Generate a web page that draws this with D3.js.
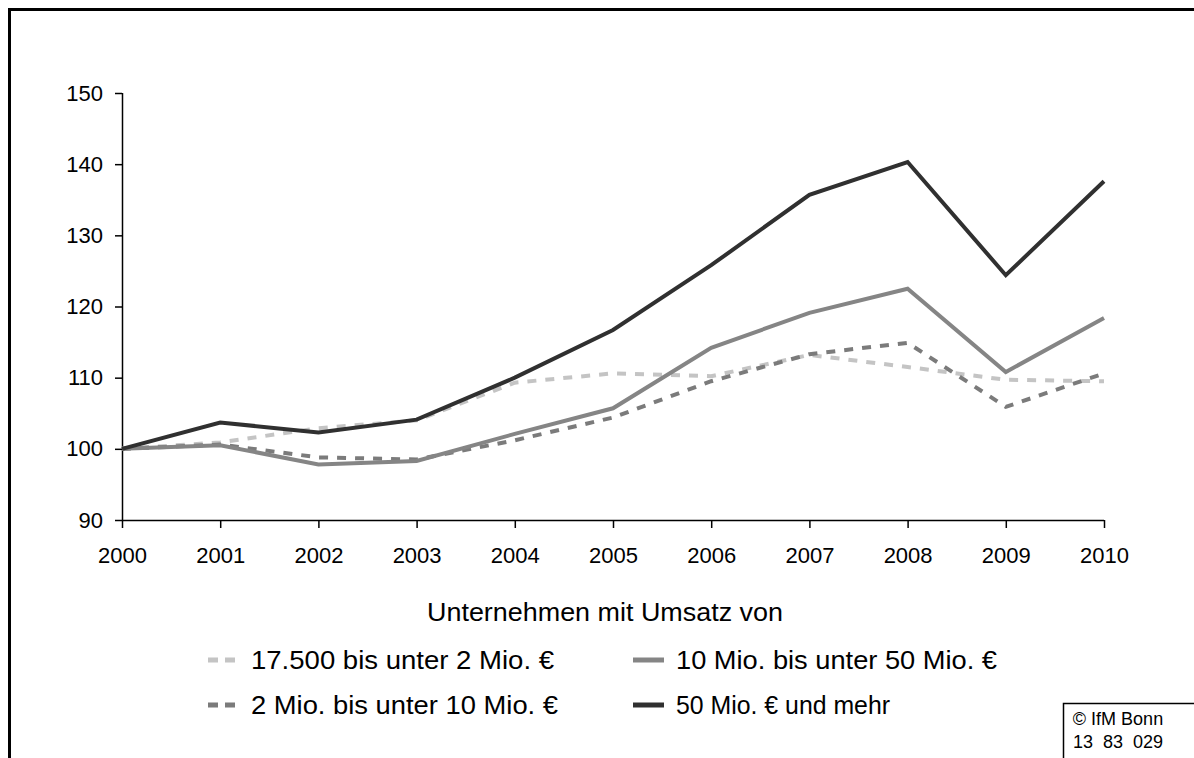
<!DOCTYPE html>
<html>
<head>
<meta charset="utf-8">
<script src="https://cdn.jsdelivr.net/npm/d3@7"></script>
<style>
  html, body { margin: 0; padding: 0; background: #fff; }
  svg { display: block; font-family: "Liberation Sans", Arial, sans-serif; }
</style>
</head>
<body>
<svg id="chart" width="1194" height="758"></svg>
<script>
// Index (2000 = 100) by turnover size class
const years = [2000, 2001, 2002, 2003, 2004, 2005, 2006, 2007, 2008, 2009, 2010];
const yTicks = [90, 100, 110, 120, 130, 140, 150];

const seriesNames = [
  "17.500 bis unter 2 Mio. €",
  "2 Mio. bis unter 10 Mio. €",
  "10 Mio. bis unter 50 Mio. €",
  "50 Mio. € und mehr"
];
const small  = [100, 100.9, 102.9, 104.0, 109.3, 110.6, 110.2, 113.2, 111.5, 109.7, 109.5];
const medium = [100, 100.6, 98.8, 98.5, 101.2, 104.4, 109.5, 113.3, 114.9, 105.9, 110.6];
const large  = [100, 100.5, 97.8, 98.3, 102.1, 105.7, 114.2, 119.1, 122.5, 110.8, 118.4];
const giant  = [100, 103.7, 102.3, 104.1, 110.0, 116.7, 125.8, 135.7, 140.3, 124.4, 137.6];

const legendTitle = "Unternehmen mit Umsatz von";
const sourceLines = ["© IfM Bonn", "13  83  029"];

const svg = d3.select("#chart");

// outer frame (left and top edges)
svg.append("path")
  .attr("d", "M9.5,758 L9.5,9.5 L1194,9.5")
  .attr("fill", "none").attr("stroke", "#000").attr("stroke-width", 3);

const x = d3.scaleLinear().domain([2000, 2010]).range([122, 1104]);
const y = d3.scaleLinear().domain([90, 150]).range([520, 93]);

// axes
const yAxis = svg.append("g").attr("transform", "translate(122,0)")
  .call(d3.axisLeft(y).tickValues(yTicks).tickSize(7).tickPadding(12).tickFormat(d3.format("d")));
const xAxis = svg.append("g").attr("transform", "translate(0,520)")
  .call(d3.axisBottom(x).tickValues(years).tickSize(8).tickPadding(19).tickFormat(d3.format("d")));
[yAxis, xAxis].forEach(g => {
  g.select(".domain").attr("stroke", "#000").attr("stroke-width", 1.5);
  g.selectAll(".tick line").attr("stroke", "#000").attr("stroke-width", 1.5);
  g.selectAll(".tick text").attr("fill", "#000").attr("font-size", 22)
    .attr("font-family", "'Liberation Sans', Arial, sans-serif");
});
xAxis.select(".domain").attr("d", "M122,0.5H1104");
yAxis.select(".domain").attr("d", "M0.5,520V93");

const series = [
  { name: seriesNames[0], values: small,  color: "#c4c4c4", dash: "9,9" },
  { name: seriesNames[1], values: medium, color: "#7b7b7b", dash: "9,9" },
  { name: seriesNames[2], values: large,  color: "#858585", dash: null },
  { name: seriesNames[3], values: giant,  color: "#303030", dash: null }
];

const line = d3.line().x((d, i) => x(years[i])).y(d => y(d));

svg.append("g").selectAll("path")
  .data(series)
  .join("path")
  .attr("d", d => line(d.values))
  .attr("fill", "none")
  .attr("stroke", d => d.color)
  .attr("stroke-width", 4)
  .attr("stroke-linejoin", "miter")
  .attr("stroke-dasharray", d => d.dash);

// legend
const legend = svg.append("g");
legend.append("text")
  .attr("x", 427).attr("y", 621)
  .attr("font-size", 26)
  .attr("textLength", 356)
  .attr("lengthAdjust", "spacingAndGlyphs")
  .text(legendTitle);

const legendPos = [
  { s: series[0], lx: 208, ly: 660, w: 303 },
  { s: series[2], lx: 633, ly: 660, w: 321 },
  { s: series[1], lx: 208, ly: 705, w: 307 },
  { s: series[3], lx: 633, ly: 705, w: 214 }
];
legendPos.forEach(p => {
  legend.append("line")
    .attr("x1", p.lx).attr("x2", p.lx + 31)
    .attr("y1", p.ly).attr("y2", p.ly)
    .attr("stroke", p.s.color).attr("stroke-width", 5)
    .attr("stroke-dasharray", p.s.dash ? "10,7" : null);
  legend.append("text")
    .attr("x", p.lx + 43).attr("y", p.ly + 9)
    .attr("font-size", 26)
    .attr("textLength", p.w)
    .attr("lengthAdjust", "spacingAndGlyphs")
    .text(p.s.name);
});

// source box
svg.append("rect")
  .attr("x", 1063.5).attr("y", 703.5).attr("width", 140).attr("height", 60)
  .attr("fill", "#fff").attr("stroke", "#000").attr("stroke-width", 1.5);
sourceLines.forEach((t, i) => {
  svg.append("text")
    .attr("x", 1118).attr("y", 725 + i * 23)
    .attr("text-anchor", "middle")
    .attr("font-size", 18)
    .attr("xml:space", "preserve")
    .style("white-space", "pre")
    .text(t);
});
</script>
</body>
</html>
